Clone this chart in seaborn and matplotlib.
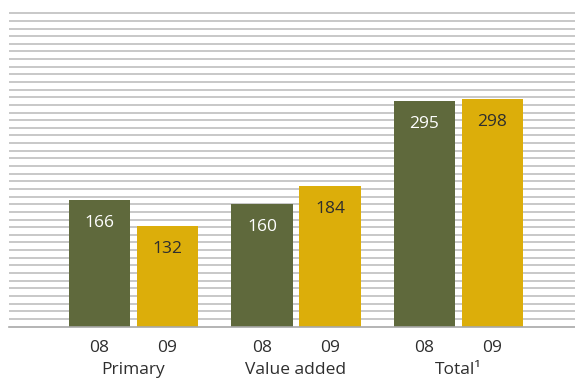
import matplotlib
matplotlib.use("Agg")
import matplotlib.pyplot as plt
import numpy as np
import pandas as pd
import seaborn as sns

# Data
groups = ["Primary", "Value added", "Total¹"]
years = ["08", "09"]
values_08 = [166, 160, 295]
values_09 = [132, 184, 298]

olive = "#5f693c"
gold = "#dcae0a"
text_dark = "#2e2e2e"

df = pd.DataFrame({
    "group": groups * 2,
    "year": [years[0]] * len(groups) + [years[1]] * len(groups),
    "value": values_08 + values_09,
})

sns.set_theme(style="white")
plt.rcParams["font.family"] = ["Open Sans", "DejaVu Sans"]

fig = plt.figure(figsize=(5.75, 3.81), dpi=100)
ax = fig.add_axes([9 / 575, 54.5 / 381, 566 / 575, 314.8 / 381])

sns.barplot(
    data=df, x="group", y="value", hue="year", order=groups, hue_order=years,
    palette=[olive, gold], saturation=1, width=0.836, gap=0.1,
    linewidth=0, legend=False, ax=ax,
)

ax.set_xlim(-0.766, 2.717)
ax.set_ylim(0, 412)

# Horizontal rules every 10 units
ax.set_yticks(np.arange(10, 411, 10))
ax.yaxis.grid(True, color="#b9b9b9", linewidth=1.1)
ax.xaxis.grid(False)
ax.set_axisbelow(True)
ax.tick_params(axis="y", left=False, labelleft=False)

for side in ["left", "right", "top"]:
    ax.spines[side].set_visible(False)
ax.spines["bottom"].set_color("#a8a8a8")
ax.spines["bottom"].set_linewidth(1.2)

# Value labels inside the bars
centers = []
year_labels = []
for cont, vals, tcolor, yr in zip(ax.containers, [values_08, values_09],
                                  ["white", text_dark], years):
    for bar, v in zip(cont, vals):
        cx = bar.get_x() + bar.get_width() / 2
        centers.append(cx)
        year_labels.append(yr)
        ax.annotate(f"{v}", (cx, bar.get_height()), xytext=(0, -16.5),
                    textcoords="offset points", ha="center", va="center",
                    fontsize=12.5, color=tcolor)

# Year ticks under each bar
ax.set_xticks(centers, labels=year_labels)
ax.tick_params(axis="x", length=0, pad=10, labelsize=12.5, labelcolor=text_dark)
ax.set_xlabel("")
ax.set_ylabel("")

# Group names below the year ticks
for i, g in enumerate(groups):
    ax.annotate(g, xy=(i, 0), xycoords=("data", "axes fraction"),
                xytext=(0, -31.5), textcoords="offset points",
                ha="center", va="center", fontsize=12.5, color=text_dark)

fig.savefig("out.png", dpi=100)
